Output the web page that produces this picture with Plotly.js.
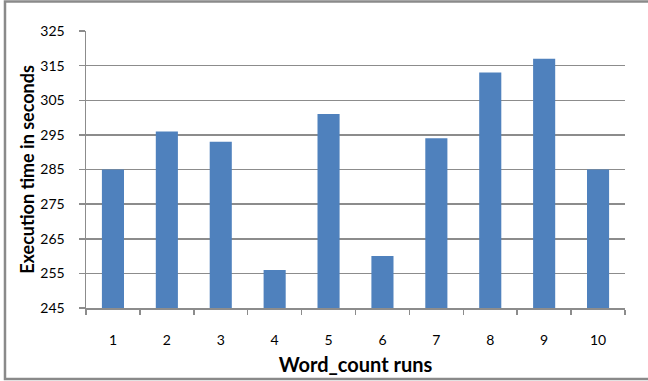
<!DOCTYPE html>
<html>
<head>
<meta charset="utf-8">
<script src="https://cdn.plot.ly/plotly-3.0.1.min.js"></script>
<style>
  html, body { margin: 0; padding: 0; background: #ffffff; }
  #chart { width: 648px; height: 381px; }
</style>
</head>
<body>
<div id="chart"></div>
<script>
// Word_count run numbers and their execution times (seconds)
const runs = ["1", "2", "3", "4", "5", "6", "7", "8", "9", "10"];
const execTimes = [285, 296, 293, 256, 301, 260, 294, 313, 317, 285];
const yTicks = [245, 255, 265, 275, 285, 295, 305, 315, 325];

const gridGray = "#8c8c8c";
const fontFamily = "Lato, 'Open Sans', sans-serif";

const trace = {
  type: "bar",
  x: runs,
  y: execTimes,
  marker: { color: "#4f81bd" },
  hoverinfo: "x+y"
};

const layout = {
  width: 648,
  height: 381,
  margin: { l: 86, r: 23, t: 31, b: 73 },
  paper_bgcolor: "#ffffff",
  plot_bgcolor: "#ffffff",
  showlegend: false,
  bargap: 0.59,
  font: { family: fontFamily, size: 14, color: "#000000" },
  xaxis: {
    type: "category",
    showgrid: false,
    showline: true,
    linecolor: gridGray,
    linewidth: 1.5,
    ticks: "outside",
    tickson: "boundaries",
    ticklen: 5,
    tickcolor: gridGray,
    tickwidth: 1.5,
    ticklabelstandoff: 19,
    tickfont: { family: fontFamily, size: 14 },
    title: {
      text: "Word_count runs",
      font: { family: fontFamily, size: 20, weight: "bold" },
      standoff: 10
    }
  },
  yaxis: {
    range: [245, 325],
    tickvals: yTicks,
    showgrid: true,
    gridcolor: gridGray,
    gridwidth: 1.5,
    zeroline: false,
    showline: true,
    linecolor: gridGray,
    linewidth: 1.5,
    ticks: "outside",
    ticklen: 6,
    tickcolor: gridGray,
    tickwidth: 1.5,
    ticklabelstandoff: 11,
    tickfont: { family: fontFamily, size: 14 },
    title: {
      text: "Execution time in seconds",
      font: { family: fontFamily, size: 18, weight: "bold" },
      standoff: 1
    }
  },
  shapes: [
    {
      // frame around the whole chart
      type: "rect",
      xref: "paper", yref: "paper",
      x0: -0.1503, x1: 1.046,
      y0: -0.2563, y1: 1.1065,
      line: { color: "#8a8a8a", width: 2.5 },
      fillcolor: "rgba(0,0,0,0)",
      layer: "below"
    }
  ]
};

Plotly.newPlot("chart", [trace], layout, { displayModeBar: false, staticPlot: true });
</script>
</body>
</html>
